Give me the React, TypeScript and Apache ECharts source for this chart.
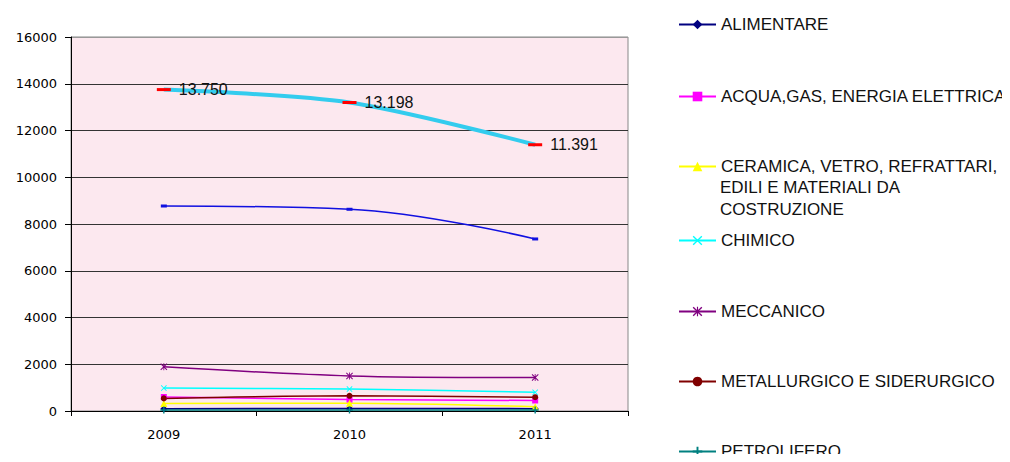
import React, { useEffect, useRef } from "react";
import * as echarts from "echarts";

const years = ["2009", "2010", "2011"];
const totale = [13750, 13198, 11391];
const altro = [8770, 8630, 7360];
const alimentare = [100, 110, 100];
const acqua = [600, 490, 450];
const ceramica = [320, 335, 185];
const chimico = [980, 940, 800];
const meccanico = [1890, 1500, 1430];
const metallurgico = [540, 650, 590];
const petrolifero = [40, 45, 40];

const NAMES = [
  "ALIMENTARE",
  "ACQUA,GAS, ENERGIA ELETTRICA",
  "CERAMICA, VETRO, REFRATTARI, EDILI E MATERIALI DA COSTRUZIONE",
  "CHIMICO",
  "MECCANICO",
  "METALLURGICO E SIDERURGICO",
  "PETROLIFERO",
];
const legendTops = [16, 88, 158, 232, 303, 373, 443];

const X_SYM = "path://M0,1L1,0L5,4L9,0L10,1L6,5L10,9L9,10L5,6L1,10L0,9L4,5Z";
const STAR_SYM =
  "path://M0,1L1,0L5,4L9,0L10,1L6,5L10,9L9,10L5,6L1,10L0,9L4,5Z M4.4,0H5.6V10H4.4Z";
const PLUS_SYM = "path://M4,0H6V4H10V6H6V10H4V6H0V4H4Z";

export default function App() {
  const ref = useRef<HTMLDivElement>(null);
  useEffect(() => {
    if (!ref.current) return;
    const chart = echarts.init(ref.current, undefined, { renderer: "svg" });
    const mk = (name: string, data: number[], color: string, symbol: string, size: any) => ({
      name,
      type: "line",
      data,
      smooth: 0.3,
      symbol,
      symbolSize: size,
      lineStyle: { color, width: 1.5 },
      itemStyle: { color },
      z: 3,
    });
    const labelFont = { fontFamily: "DejaVu Sans", fontSize: 13, color: "#000" };
    chart.setOption({
      animation: false,
      backgroundColor: "#fff",
      textStyle: { fontFamily: "Liberation Sans" },
      grid: {
        left: 71,
        right: 382,
        top: 37,
        bottom: 51,
        show: true,
        backgroundColor: "#FCE8EF",
        borderColor: "#888",
        borderWidth: 1,
      },
      legend: NAMES.map((n, i) => ({
        orient: "vertical",
        left: 678,
        top: legendTops[i],
        padding: 0,
        data: [n],
        itemWidth: 37,
        itemHeight: 12,
        selectedMode: false,
        formatter: (name: string) =>
          name.startsWith("CERAMICA") ? "CERAMICA, VETRO, REFRATTARI," : name,
        textStyle: { fontFamily: "Liberation Sans", fontSize: 17, color: "#111" },
      })),
      graphic: [
        {
          type: "text",
          left: 720,
          top: 177,
          style: {
            text: "EDILI E MATERIALI DA\nCOSTRUZIONE",
            fontFamily: "Liberation Sans",
            fontSize: 17,
            lineHeight: 21.5,
            fill: "#111",
          },
        },
      ],
      xAxis: {
        type: "category",
        data: years,
        boundaryGap: true,
        axisLine: { lineStyle: { color: "#000", width: 1 } },
        axisTick: { show: true, length: 5, lineStyle: { color: "#000" } },
        axisLabel: { ...labelFont, margin: 17 },
      },
      yAxis: {
        type: "value",
        min: 0,
        max: 16000,
        interval: 2000,
        axisLine: { show: true, lineStyle: { color: "#000", width: 1 } },
        axisTick: { show: true, length: 6, lineStyle: { color: "#000" } },
        axisLabel: { ...labelFont, margin: 14, formatter: (v: number) => String(v) },
        splitLine: {
          lineStyle: {
            color: ["#333", "#333", "#333", "#333", "#333", "#333", "#333", "#333", "#999"],
            width: 1,
          },
        },
      },
      series: [
        mk(NAMES[0], alimentare, "#000080", "diamond", 7),
        mk(NAMES[1], acqua, "#FF00FF", "rect", 6),
        mk(NAMES[2], ceramica, "#FFFF00", "triangle", 7),
        mk(NAMES[3], chimico, "#00FFFF", X_SYM, 6),
        mk(NAMES[4], meccanico, "#800080", STAR_SYM, 7),
        mk(NAMES[5], metallurgico, "#800000", "circle", 6),
        mk(NAMES[6], petrolifero, "#008080", PLUS_SYM, 7),
        {
          name: "ALTRO",
          type: "line",
          data: altro,
          smooth: 0.4,
          symbol: "rect",
          symbolSize: [6, 3],
          lineStyle: { color: "#1010E0", width: 1.5 },
          itemStyle: { color: "#1010E0" },
          z: 3,
        },
        {
          name: "TOTALE",
          type: "line",
          data: totale,
          smooth: 0.3,
          symbol: "rect",
          symbolSize: [14, 3],
          lineStyle: { color: "#33CCEE", width: 4 },
          itemStyle: { color: "#FF0000" },
          z: 4,
          label: {
            show: true,
            position: "right",
            distance: 8,
            formatter: (p: any) => p.value.toLocaleString("it-IT"),
            fontFamily: "Liberation Sans",
            fontSize: 16,
            color: "#111",
          },
        },
      ],
    });
    return () => chart.dispose();
  }, []);
  return <div ref={ref} style={{ width: 1010, height: 462, margin: -8 }} />;
}
